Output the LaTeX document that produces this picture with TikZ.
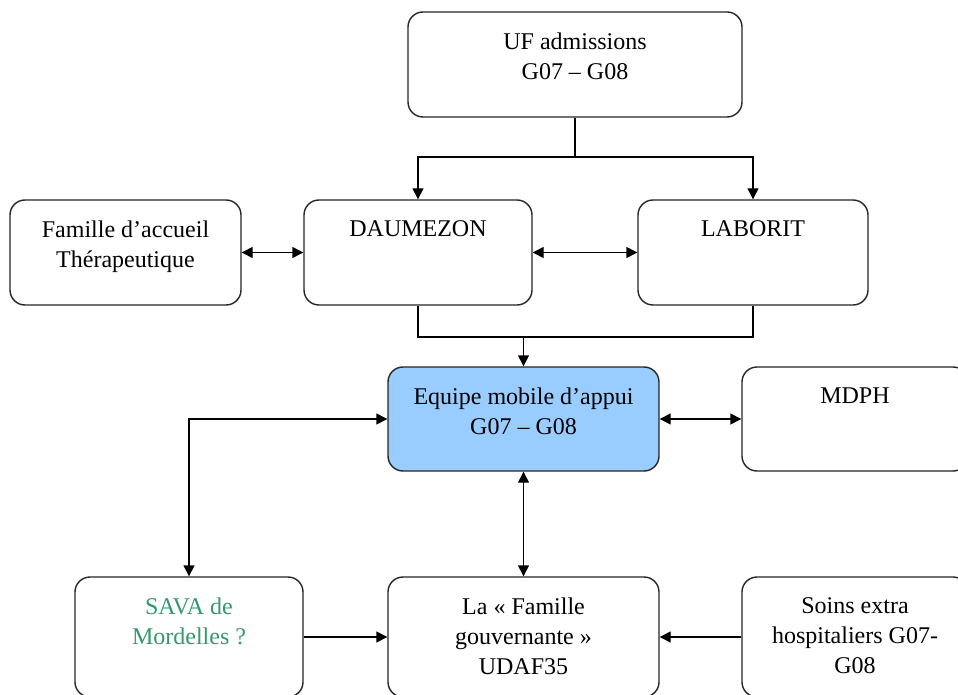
\documentclass[tikz,border=0pt]{standalone}
\usepackage{fontspec}
\setmainfont{Liberation Serif}
\usetikzlibrary{arrows.meta}

\begin{document}
\begin{tikzpicture}[x=0.5pt, y=-0.5pt,
    box/.style={draw=black!85, line width=0.7pt, rounded corners=7.5pt, minimum height=52.5pt, inner sep=0pt},
    toptext/.style={label={[align=center, anchor=north, yshift=-7pt, font=\fontsize{12}{15}\selectfont]north:#1}},
    link/.style={line width=0.7pt},
    arr/.style={link, -{Triangle[length=5.5pt,width=5.5pt]}},
    darr/.style={link, {Triangle[length=5.5pt,width=5.5pt]}-{Triangle[length=5.5pt,width=5.5pt]}}]
    \clip (0,0) rectangle (958,695);
    \fill[white] (0,0) rectangle (958,695);

    \node[box, minimum width=167pt, toptext={UF admissions\\G07 -- G08}] (uf) at (575,64.5) {};
    \node[box, minimum width=115.5pt, toptext={Famille d’accueil\\Thérapeutique}] (fam) at (125.5,252.5) {};
    \node[box, minimum width=114pt, toptext={DAUMEZON}] (daum) at (418,252.5) {};
    \node[box, minimum width=115pt, toptext={LABORIT}] (lab) at (753,252.5) {};
    \node[box, minimum width=135.5pt, minimum height=52pt, fill={rgb,255:red,153;green,204;blue,255}, toptext={Equipe mobile d’appui\\G07 -- G08}] (emob) at (523.5,419) {};
    \node[box, minimum width=113pt, minimum height=52pt, toptext={MDPH}] (mdph) at (855,419) {};
    \node[box, minimum width=114pt, minimum height=60pt, toptext={\textcolor[RGB]{51,153,110}{SAVA de}\\\textcolor[RGB]{51,153,110}{Mordelles ?}}] (sava) at (189,637) {};
    \node[box, minimum width=135.5pt, minimum height=60pt, toptext={La « Famille\\gouvernante »\\UDAF35}] (fg) at (523.5,637) {};
    \node[box, minimum width=113pt, minimum height=60pt, toptext={Soins extra\\hospitaliers G07-\\G08}] (soins) at (855,637) {};

    \coordinate (split) at (575,157);
    \coordinate (merge) at (523.5,337);

    \draw[link] (uf.south) -- (split);
    \draw[arr] (split) -| (daum.north);
    \draw[arr] (split) -| (lab.north);
    \draw[link] (daum.south) |- (merge);
    \draw[link] (lab.south) |- (merge);
    \draw[arr] (merge) -- (emob.north);

    \draw[darr] (fam.east) -- (daum.west);
    \draw[darr] (daum.east) -- (lab.west);
    \draw[darr] (emob.east) -- (mdph.west);
    \draw[darr] (emob.west) -| (sava.north);
    \draw[darr] (emob.south) -- (fg.north);
    \draw[arr] (sava.east) -- (fg.west);
    \draw[arr] (soins.west) -- (fg.east);
\end{tikzpicture}
\end{document}
